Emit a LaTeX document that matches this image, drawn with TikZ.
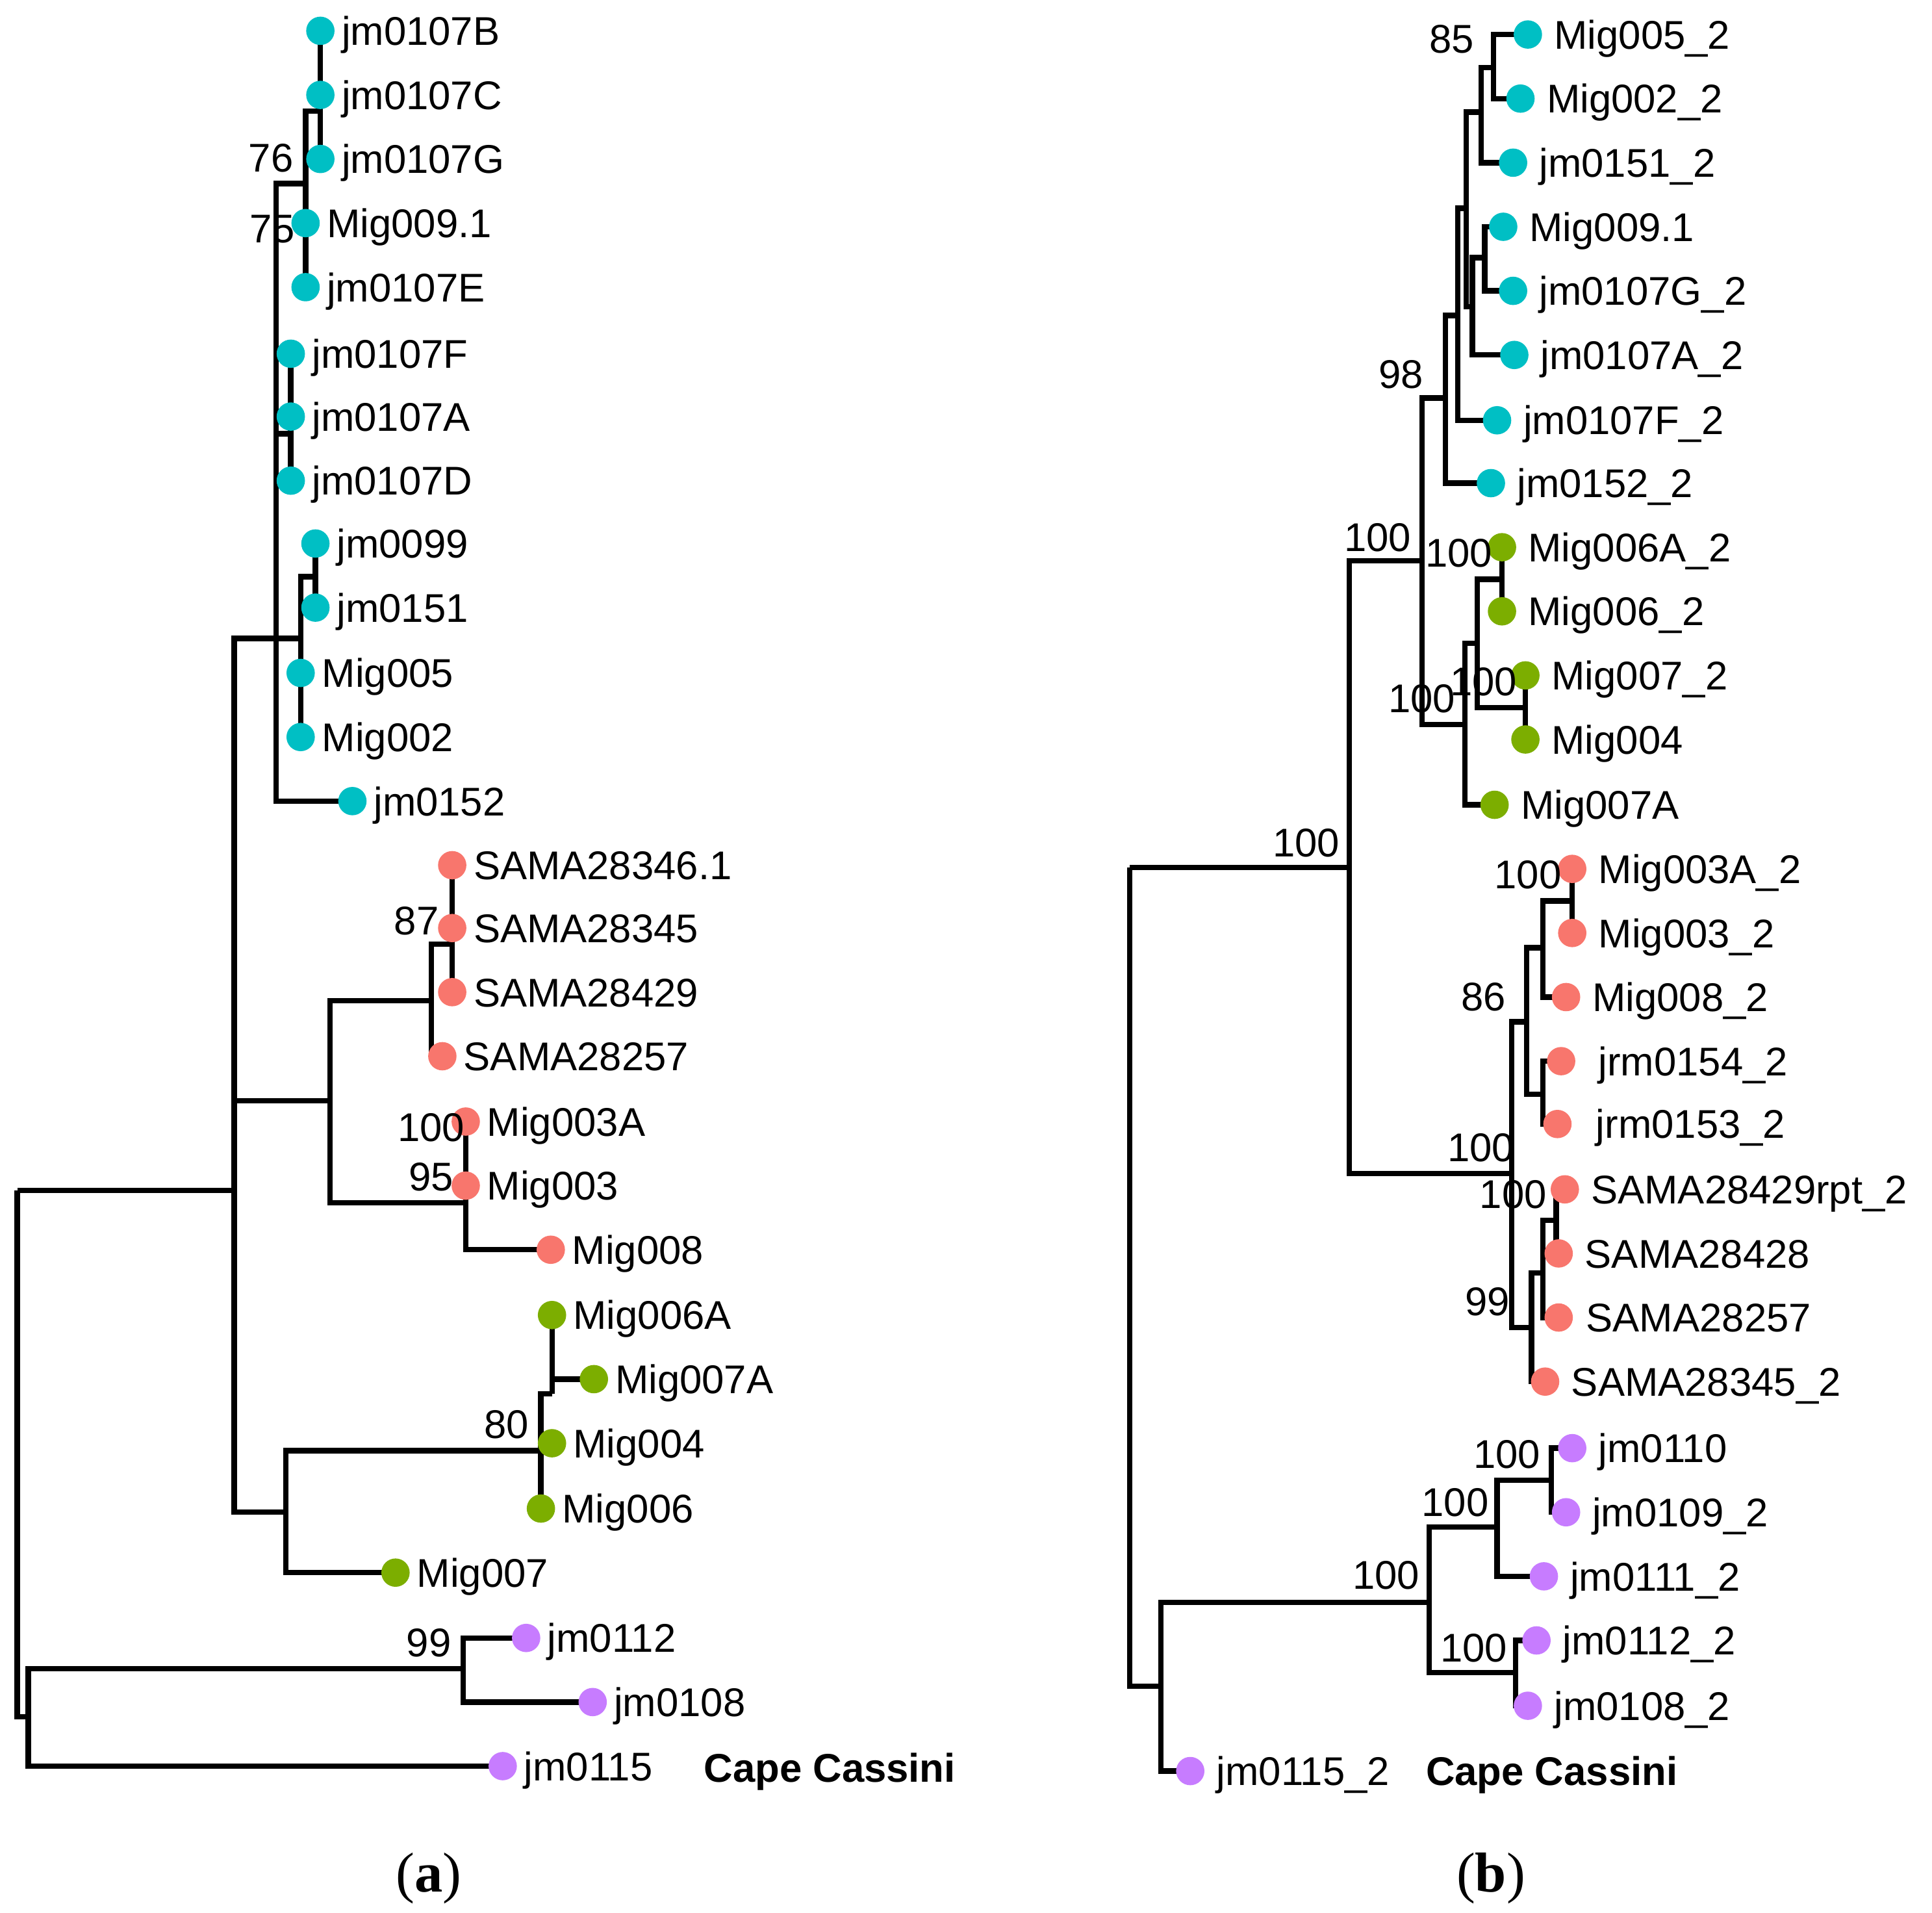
\documentclass[tikz,border=0pt]{standalone}
\usepackage{fontspec}
\setmainfont{Liberation Sans}
\newfontfamily\capserif{Liberation Serif}
\usetikzlibrary{backgrounds}
\definecolor{cy}{HTML}{00BFC4}
\definecolor{rd}{HTML}{F8766D}
\definecolor{gr}{HTML}{7CAE00}
\definecolor{pu}{HTML}{C77CFF}
\tikzset{
  dot/.style={circle, inner sep=0pt, minimum size=0.46cm, draw=none},
  lab/.style={inner sep=0pt, anchor=base west, font=\fontsize{18.5}{22}\selectfont},
  bs/.style={inner sep=0pt, font=\fontsize{18.5}{22}\selectfont},
  branch/.style={line width=2.5pt, line join=miter, black},
  sublab/.style={inner sep=0pt, font=\capserif\fontsize{26}{30}\selectfont}
}
\newcommand\leaf[6][17]{%
  \node[dot, fill=#5] (#2) at (#3,-#4) {};
  \node[lab] (#2-t) at (#3+#1,-#4-11.7) {#6};
}
\newcommand\bsl[4]{\node[bs] (#1) at (#2,-#3) {#4};}
\newcommand\br[2]{\draw[branch] (#1) |- (#2);}
\begin{document}
\begin{tikzpicture}[x=0.02cm, y=0.02cm]
\useasboundingbox (0,0) rectangle (1568,-1552);
% ---------------- (a) leaves
\leaf{aB}{260}{25}{cy}{jm0107B}
\leaf{aC}{260}{77}{cy}{jm0107C}
\leaf{aG}{260}{129}{cy}{jm0107G}
\leaf{aM9}{248}{181}{cy}{Mig009.1}
\leaf{aE}{248}{233}{cy}{jm0107E}
\leaf{aF}{236}{287}{cy}{jm0107F}
\leaf{aA}{236}{338}{cy}{jm0107A}
\leaf{aD}{236}{390}{cy}{jm0107D}
\leaf{a99}{256}{441}{cy}{jm0099}
\leaf{a151}{256}{493}{cy}{jm0151}
\leaf{a005}{244}{546}{cy}{Mig005}
\leaf{a002}{244}{598}{cy}{Mig002}
\leaf{a152}{286}{650}{cy}{jm0152}
\leaf{s346}{367}{702}{rd}{SAMA28346.1}
\leaf{s345}{367}{753}{rd}{SAMA28345}
\leaf{s429}{367}{805}{rd}{SAMA28429}
\leaf{s257}{359}{857}{rd}{SAMA28257}
\leaf{m3A}{378}{910}{rd}{Mig003A}
\leaf{m3}{378}{962}{rd}{Mig003}
\leaf{m8}{447}{1014}{rd}{Mig008}
\leaf{m6A}{448}{1067}{gr}{Mig006A}
\leaf{m7A}{482}{1119}{gr}{Mig007A}
\leaf{m4}{448}{1171}{gr}{Mig004}
\leaf{m6}{439}{1224}{gr}{Mig006}
\leaf{m7}{321}{1276}{gr}{Mig007}
\leaf{j112}{427}{1329}{pu}{jm0112}
\leaf{j108}{481}{1381}{pu}{jm0108}
\leaf{j115}{408}{1433}{pu}{jm0115}
\node[lab, font=\bfseries\fontsize{18.5}{22}\selectfont] (capeA) at (571,-1445.7) {Cape Cassini};
% (a) internal nodes
\coordinate (rootA) at (14,-966);
\coordinate (X) at (190,-966);
\coordinate (nCy) at (224,-518);
\coordinate (n1) at (248,-149);
\coordinate (nBCG) at (260,-90);
\coordinate (nFAD) at (236,-352);
\coordinate (nM) at (244,-518);
\coordinate (n99) at (256,-468);
\coordinate (nR) at (268,-893);
\coordinate (nS) at (350,-812);
\coordinate (nS3) at (367,-766);
\coordinate (nMig3) at (378,-976);
\coordinate (nG) at (232,-1227);
\coordinate (nG2) at (439,-1177);
\coordinate (nG3) at (448,-1131);
\coordinate (nP) at (23,-1393);
\coordinate (nP2) at (376,-1354);
% (a) bootstrap
\bsl{a76}{220}{128}{76}
\bsl{a75}{221}{186}{75}
\bsl{a87}{338}{747}{87}
\bsl{a100}{350}{915}{100}
\bsl{a95}{350}{955}{95}
\bsl{a80}{411}{1156}{80}
\bsl{a99l}{348}{1333}{99}
\node[sublab] (capa) at (348,-1524) {(\textbf{a})};
% ---------------- (b) leaves
\leaf[21]{b005}{1240}{28}{cy}{Mig005\_2}
\leaf[21]{b002}{1234}{80}{cy}{Mig002\_2}
\leaf[21]{b151}{1228}{132}{cy}{jm0151\_2}
\leaf[21]{b91}{1220}{184}{cy}{Mig009.1}
\leaf[21]{b7G}{1228}{236}{cy}{jm0107G\_2}
\leaf[21]{b7A}{1229}{288}{cy}{jm0107A\_2}
\leaf[21]{b7F}{1215}{341}{cy}{jm0107F\_2}
\leaf[21]{b152}{1210}{392}{cy}{jm0152\_2}
\leaf[21]{g6A}{1219}{444}{gr}{Mig006A\_2}
\leaf[21]{g6}{1219}{496}{gr}{Mig006\_2}
\leaf[21]{g7}{1238}{548}{gr}{Mig007\_2}
\leaf[21]{g4}{1238}{600}{gr}{Mig004}
\leaf[21]{g7A}{1213}{653}{gr}{Mig007A}
\leaf[21]{r3A}{1276}{705}{rd}{Mig003A\_2}
\leaf[21]{r3}{1276}{757}{rd}{Mig003\_2}
\leaf[21]{r8}{1271}{809}{rd}{Mig008\_2}
\leaf[30]{r154}{1267}{861}{rd}{jrm0154\_2}
\leaf[31]{r153}{1264}{912}{rd}{jrm0153\_2}
\leaf[21]{r429}{1270}{965}{rd}{SAMA28429rpt\_2}
\leaf[21]{r428}{1265}{1017}{rd}{SAMA28428}
\leaf[22]{r257}{1265}{1069}{rd}{SAMA28257}
\leaf[21]{r345}{1254}{1121}{rd}{SAMA28345\_2}
\leaf[21]{p110}{1276}{1175}{pu}{jm0110}
\leaf[21]{p109}{1271}{1227}{pu}{jm0109\_2}
\leaf[21]{p111}{1253}{1279}{pu}{jm0111\_2}
\leaf[21]{p112}{1247}{1331}{pu}{jm0112\_2}
\leaf[21]{p108}{1240}{1384}{pu}{jm0108\_2}
\leaf[21]{p115}{966}{1437}{pu}{jm0115\_2}
\node[lab, font=\bfseries\fontsize{18.5}{22}\selectfont] (capeB) at (1157,-1448.7) {Cape Cassini};
% (b) internal nodes
\coordinate (rootB) at (917,-704);
\coordinate (nBig) at (1095,-704);
\coordinate (n98) at (1154,-455);
\coordinate (nD) at (1173,-323);
\coordinate (nC) at (1183,-256);
\coordinate (nA) at (1190,-169);
\coordinate (nE) at (1202,-91);
\coordinate (nF) at (1212,-55);
\coordinate (nB) at (1195,-249);
\coordinate (nH) at (1205,-209);
\coordinate (nG1) at (1189,-588);
\coordinate (nG2b) at (1199,-522);
\coordinate (nG3b) at (1219,-470);
\coordinate (nG4b) at (1238,-574);
\coordinate (nRed) at (1227,-952);
\coordinate (nRu) at (1239,-829);
\coordinate (nR1) at (1252,-769);
\coordinate (nR3) at (1276,-731);
\coordinate (nJ) at (1252,-888);
\coordinate (nRl) at (1243,-1077);
\coordinate (nL2) at (1252,-1033);
\coordinate (nL3) at (1263,-990);
\coordinate (nPur) at (942,-1368);
\coordinate (nPur2) at (1160,-1300);
\coordinate (nP3) at (1215,-1239);
\coordinate (nP5) at (1259,-1201);
\coordinate (nP4) at (1230,-1357);
% (b) bootstrap
\bsl{b85}{1178}{32}{85}
\bsl{b98}{1137}{304}{98}
\bsl{b100a}{1118}{436}{100}
\bsl{b100b}{1184}{449}{100}
\bsl{b100c}{1204}{553}{100}
\bsl{b100d}{1154}{567}{100}
\bsl{b100e}{1060}{684}{100}
\bsl{b100f}{1240}{710}{100}
\bsl{b86}{1204}{809}{86}
\bsl{b100g}{1202}{931}{100}
\bsl{b100h}{1228}{969}{100}
\bsl{b99}{1207}{1056}{99}
\bsl{b100i}{1223}{1180}{100}
\bsl{b100j}{1181}{1219}{100}
\bsl{b100k}{1125}{1278}{100}
\bsl{b100l}{1196}{1337}{100}
\node[sublab] (capb) at (1210,-1524) {(\textbf{b})};
% ---------------- branches
\begin{pgfonlayer}{background}
% (a)
\br{rootA}{X}\br{rootA}{nP}
\br{X}{nCy}\br{X}{nR}\br{X}{nG}
\br{nCy}{n1}\br{nCy}{nFAD}\br{nCy}{nM}\br{nCy}{a152.center}
\br{n1}{nBCG}\br{n1}{aM9.center}\br{n1}{aE.center}
\br{nBCG}{aB.center}\br{nBCG}{aC.center}\br{nBCG}{aG.center}
\br{nFAD}{aF.center}\br{nFAD}{aA.center}\br{nFAD}{aD.center}
\br{nM}{n99}\br{nM}{a005.center}\br{nM}{a002.center}
\br{n99}{a99.center}\br{n99}{a151.center}
\br{nR}{nS}\br{nR}{nMig3}
\br{nS}{nS3}\br{nS}{s257.center}
\br{nS3}{s346.center}\br{nS3}{s345.center}\br{nS3}{s429.center}
\br{nMig3}{m3A.center}\br{nMig3}{m3.center}\br{nMig3}{m8.center}
\br{nG}{nG2}\br{nG}{m7.center}
\br{nG2}{nG3}\br{nG2}{m4.center}\br{nG2}{m6.center}
\br{nG3}{m6A.center}\br{nG3}{m7A.center}
\br{nP}{nP2}\br{nP}{j115.center}
\br{nP2}{j112.center}\br{nP2}{j108.center}
% (b)
\br{rootB}{nBig}\br{rootB}{nPur}
\br{nBig}{n98}\br{nBig}{nRed}
\br{n98}{nD}\br{n98}{nG1}
\br{nD}{nC}\br{nD}{b152.center}
\br{nC}{nA}\br{nC}{b7F.center}
\br{nA}{nE}\br{nA}{nB}
\br{nE}{nF}\br{nE}{b151.center}
\br{nF}{b005.center}\br{nF}{b002.center}
\br{nB}{nH}\br{nB}{b7A.center}
\br{nH}{b91.center}\br{nH}{b7G.center}
\br{nG1}{nG2b}\br{nG1}{g7A.center}
\br{nG2b}{nG3b}\br{nG2b}{nG4b}
\br{nG3b}{g6A.center}\br{nG3b}{g6.center}
\br{nG4b}{g7.center}\br{nG4b}{g4.center}
\br{nRed}{nRu}\br{nRed}{nRl}
\br{nRu}{nR1}\br{nRu}{nJ}
\br{nR1}{nR3}\br{nR1}{r8.center}
\br{nR3}{r3A.center}\br{nR3}{r3.center}
\br{nJ}{r154.center}\br{nJ}{r153.center}
\br{nRl}{nL2}\br{nRl}{r345.center}
\br{nL2}{nL3}\br{nL2}{r257.center}
\br{nL3}{r429.center}\br{nL3}{r428.center}
\br{nPur}{nPur2}\br{nPur}{p115.center}
\br{nPur2}{nP3}\br{nPur2}{nP4}
\br{nP3}{nP5}\br{nP3}{p111.center}
\br{nP5}{p110.center}\br{nP5}{p109.center}
\br{nP4}{p112.center}\br{nP4}{p108.center}
\end{pgfonlayer}
\end{tikzpicture}
\end{document}
